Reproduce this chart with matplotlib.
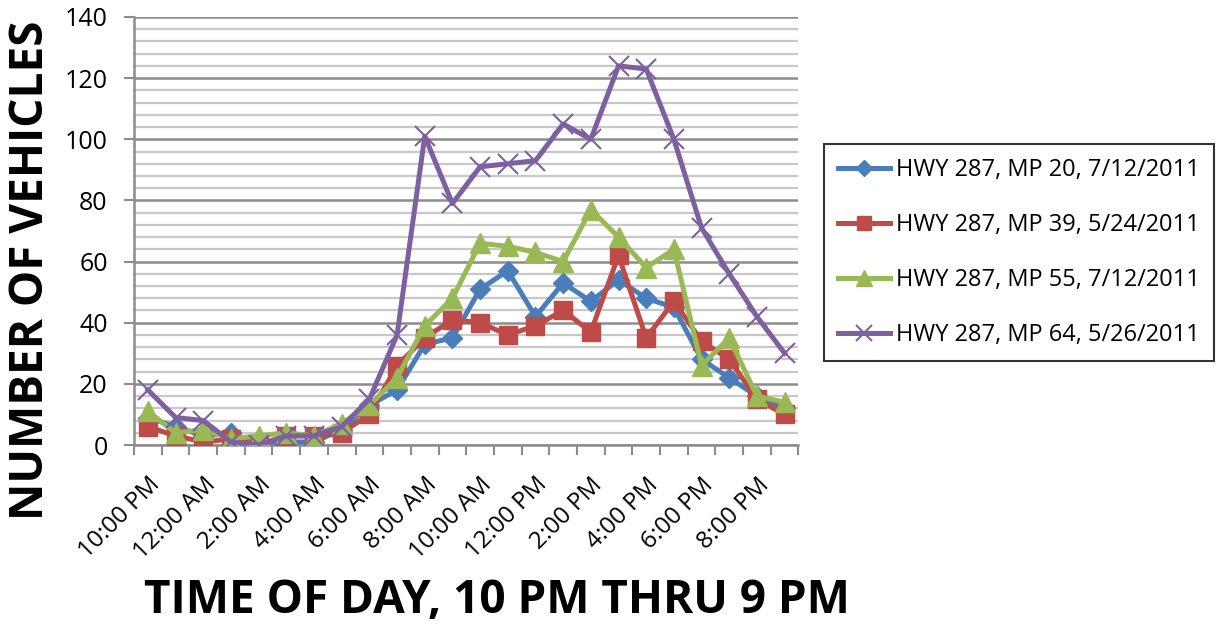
import matplotlib.pyplot as plt
from matplotlib.ticker import MultipleLocator, FixedLocator

# -------------------------------
# DATA
# -------------------------------
hours = ["10:00 PM", "11:00 PM", "12:00 AM", "1:00 AM", "2:00 AM", "3:00 AM",
         "4:00 AM", "5:00 AM", "6:00 AM", "7:00 AM", "8:00 AM", "9:00 AM",
         "10:00 AM", "11:00 AM", "12:00 PM", "1:00 PM", "2:00 PM", "3:00 PM",
         "4:00 PM", "5:00 PM", "6:00 PM", "7:00 PM", "8:00 PM", "9:00 PM"]

mp20 = [9, 6, 3, 4, 0, 1, 1, 5, 13, 18, 33, 35, 51, 57, 42, 53, 47, 54,
        48, 45, 28, 22, 16, 12]
mp39 = [6, 3, 1, 2, 0, 3, 3, 4, 10, 26, 35, 41, 40, 36, 39, 44, 37, 62,
        35, 47, 34, 28, 15, 10]
mp55 = [11, 4, 5, 2, 3, 4, 3, 7, 13, 22, 39, 48, 66, 65, 63, 60, 77, 68,
        58, 64, 26, 35, 16, 14]
mp64 = [18, 9, 8, 1, 0, 3, 3, 6, 15, 36, 101, 79, 91, 92, 93, 105, 100, 124,
        123, 100, 71, 56, 42, 30]

series_names = ["HWY 287, MP 20, 7/12/2011", "HWY 287, MP 39, 5/24/2011",
                "HWY 287, MP 55, 7/12/2011", "HWY 287, MP 64, 5/26/2011"]

# -------------------------------
# STYLE
# -------------------------------
plt.rcParams['font.family'] = ['Open Sans', 'DejaVu Sans']
colors = ['#4A7EBB', '#BE4B48', '#98B954', '#7D60A0']
markers = ['D', 's', '^', 'x']
msizes = [10.5, 13.5, 15, 15]

fig = plt.figure(figsize=(12.19, 6.29), dpi=100)
ax = fig.add_axes([0.110, 0.2925, 0.545, 0.6805])

x = list(range(len(hours)))
for vals, name, c, m, ms in zip([mp20, mp39, mp55, mp64], series_names, colors, markers, msizes):
    ax.plot(x, vals, color=c, lw=3.6, marker=m, ms=ms, mec=c, mfc=c,
            mew=1.5 if m == 'x' else 1, label=name, solid_joinstyle='round', zorder=3)

ax.set_xlim(-0.5, len(hours) - 0.5)
ax.set_ylim(0, 140)
ax.yaxis.set_major_locator(MultipleLocator(20))
ax.yaxis.set_minor_locator(MultipleLocator(4))
ax.grid(which='minor', axis='y', color='#C8C8C8', lw=1.6, zorder=0)
ax.grid(which='major', axis='y', color='#8C8C8C', lw=1.8, zorder=0)
ax.set_axisbelow(True)

ax.xaxis.set_major_locator(FixedLocator(x[::2]))
ax.set_xticklabels(hours[::2], rotation=45, ha='right', rotation_mode='anchor')
ax.xaxis.set_minor_locator(FixedLocator([i - 0.5 for i in range(len(hours) + 1)]))
ax.tick_params(axis='x', which='major', length=0, pad=20, labelsize=17.5)
ax.tick_params(axis='x', which='minor', length=7, width=1.5, color='#8C8C8C')
ax.tick_params(axis='y', which='major', length=7, width=1.5, color='#8C8C8C', labelsize=18, pad=12)
ax.tick_params(axis='y', which='minor', length=0)

for s in ['top', 'right']:
    ax.spines[s].set_visible(False)
for s in ['left', 'bottom']:
    ax.spines[s].set_color('#8C8C8C')
    ax.spines[s].set_linewidth(1.8)

fig.text(0.025, 0.571, 'NUMBER OF VEHICLES', fontsize=33, fontweight='bold',
         rotation=90, ha='center', va='center')
fig.text(0.408, 0.008, 'TIME OF DAY, 10 PM THRU 9 PM', fontsize=33, fontweight='bold',
         ha='center', va='bottom')

leg = ax.legend(loc='upper left', bbox_to_anchor=(1.039, 0.703), borderaxespad=0,
                fontsize=17, frameon=True, fancybox=False, edgecolor='black',
                handlelength=2.2, labelspacing=1.32, borderpad=0.58,
                handletextpad=0.25, markerscale=0.75)
leg.get_frame().set_linewidth(1.5)

fig.savefig('out.png', dpi=100)
